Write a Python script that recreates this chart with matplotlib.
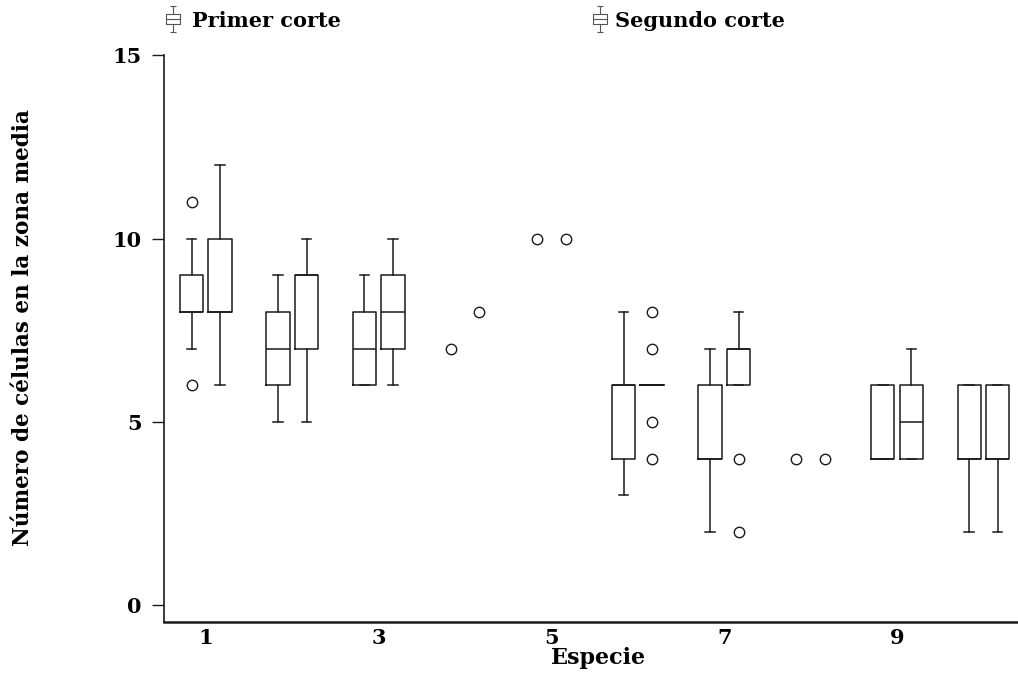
import matplotlib
matplotlib.use("Agg")
import matplotlib.pyplot as plt
from matplotlib.path import Path
from matplotlib.lines import Line2D

# ---------------- data ----------------
species = [1, 2, 3, 4, 5, 6, 7, 8, 9, 10]
tick_labels = ["1", "3", "5", "7", "9"]
tick_positions = [1, 3, 5, 7, 9]

# Primer corte (box statistics; None = only a single observation)
p_whislo = [7, 5, 6, None, None, 3, 2, None, 4, 2]
p_q1 = [8, 6, 6, None, None, 4, 4, None, 4, 4]
p_med = [8, 7, 7, None, None, 6, 4, None, 4, 4]
p_q3 = [9, 8, 8, None, None, 6, 6, None, 6, 6]
p_whishi = [10, 9, 9, None, None, 8, 7, None, 6, 6]
p_fliers = [[11, 6], [], [], [], [], [], [], [], [], []]
p_single = [None, None, None, 7, 10, None, None, 4, None, None]

# Segundo corte
s_whislo = [6, 5, 6, None, None, 6, 6, None, 4, 2]
s_q1 = [8, 7, 7, None, None, 6, 6, None, 4, 4]
s_med = [8, 9, 8, None, None, 6, 7, None, 5, 4]
s_q3 = [10, 9, 9, None, None, 6, 7, None, 6, 6]
s_whishi = [12, 10, 10, None, None, 6, 8, None, 7, 6]
s_fliers = [[], [], [], [], [], [8, 7, 5, 4], [4, 2], [], [], []]
s_single = [None, None, None, 8, 10, None, None, 4, None, None]

series_names = ["Primer corte", "Segundo corte"]

# ---------------- style ----------------
FONT = "DejaVu Serif"
LC = "#1a1a1a"
OFFSET = 0.165
BOXW = 0.27
FS = 15

fig = plt.figure(figsize=(10.18, 6.74), dpi=100)
ax = fig.add_axes([0.161, 0.077, 0.839, 0.841])


def draw(whislo, q1, med, q3, whishi, fliers, single, shift):
    stats, pos = [], []
    for i, sp in enumerate(species):
        if q1[i] is None:
            continue
        stats.append(dict(med=med[i], q1=q1[i], q3=q3[i], whislo=whislo[i],
                          whishi=whishi[i], fliers=fliers[i]))
        pos.append(sp + shift)
    ax.bxp(stats, positions=pos, widths=BOXW, capwidths=0.11,
           boxprops=dict(color=LC, lw=1.1),
           whiskerprops=dict(color=LC, lw=1.1),
           capprops=dict(color=LC, lw=1.1),
           medianprops=dict(color=LC, lw=1.1),
           flierprops=dict(marker="o", markerfacecolor="white",
                           markeredgecolor=LC, markersize=7.5, mew=1.0),
           manage_ticks=False)
    xs = [sp + shift for sp, v in zip(species, single) if v is not None]
    ys = [v for v in single if v is not None]
    ax.plot(xs, ys, "o", markerfacecolor="white", markeredgecolor=LC,
            markersize=7.5, mew=1.0, ls="none")


draw(p_whislo, p_q1, p_med, p_q3, p_whishi, p_fliers, p_single, -OFFSET)
draw(s_whislo, s_q1, s_med, s_q3, s_whishi, s_fliers, s_single, OFFSET)

ax.set_xlim(0.514, 10.40)
ax.set_ylim(-0.46, 15)
ax.set_yticks([0, 5, 10, 15])
ax.set_xticks(tick_positions)
ax.set_xticklabels(tick_labels)
for s in ["top", "right"]:
    ax.spines[s].set_visible(False)
ax.spines["left"].set_color(LC)
ax.spines["left"].set_linewidth(1.2)
ax.spines["bottom"].set_color(LC)
ax.spines["bottom"].set_linewidth(1.8)
ax.tick_params(axis="y", length=9, width=1.0, color=LC, pad=7)
ax.tick_params(axis="x", length=0, pad=4)
for lab in ax.get_xticklabels() + ax.get_yticklabels():
    lab.set_fontfamily(FONT)
    lab.set_fontweight("bold")
    lab.set_fontsize(FS)

ax.set_xlabel("Especie", fontfamily=FONT, fontweight="bold", fontsize=FS + 1)
ax.xaxis.set_label_coords(0.509, -0.044)
ax.set_ylabel("Número de células en la zona media", fontfamily=FONT,
              fontweight="bold", fontsize=FS + 0.5)
ax.yaxis.set_label_coords(-0.152, 0.519)

# legend glyph: mini box plot
verts = [(-0.5, -0.35), (0.5, -0.35), (0.5, 0.35), (-0.5, 0.35), (-0.5, -0.35),
         (0, 0.35), (0, 1.0), (-0.25, 1.0), (0.25, 1.0),
         (0, -0.35), (0, -1.0), (-0.25, -1.0), (0.25, -1.0),
         (-0.5, 0.0), (0.5, 0.0)]
codes = [Path.MOVETO, Path.LINETO, Path.LINETO, Path.LINETO, Path.LINETO,
         Path.MOVETO, Path.LINETO, Path.MOVETO, Path.LINETO,
         Path.MOVETO, Path.LINETO, Path.MOVETO, Path.LINETO,
         Path.MOVETO, Path.LINETO]
glyph = Path(verts, codes)

for name, x0, pad in zip(series_names, [0.141, 0.561], [0.45, 0.2]):
    h = Line2D([], [], marker=glyph, markersize=19, markerfacecolor="none",
               markeredgecolor="#555555", mew=0.8, ls="none")
    fig.legend([h], [name], loc="upper left", bbox_to_anchor=(x0, 1.012),
               frameon=False, handletextpad=pad, handlelength=1.0,
               prop=dict(family=FONT, weight="bold", size=FS))

fig.savefig("out.png", dpi=100)
